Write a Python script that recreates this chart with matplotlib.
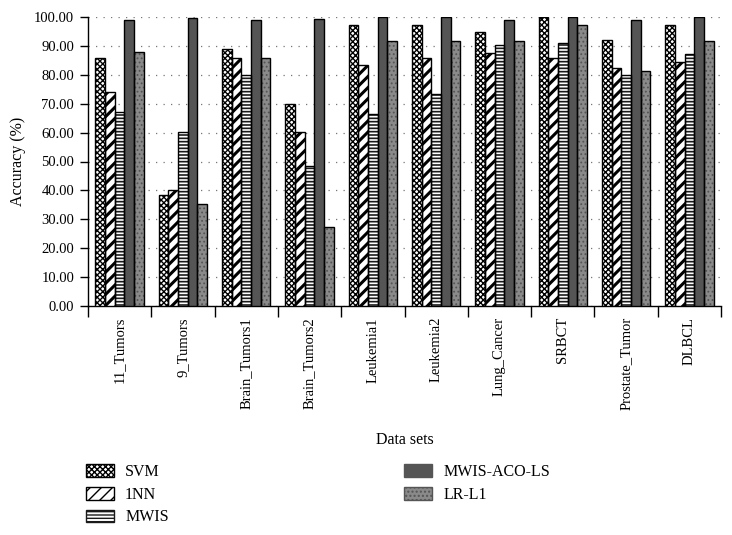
import matplotlib
matplotlib.use("Agg")
import matplotlib.pyplot as plt
import numpy as np
from matplotlib.patches import Patch

categories = ["11_Tumors", "9_Tumors", "Brain_Tumors1", "Brain_Tumors2", "Leukemia1",
              "Leukemia2", "Lung_Cancer", "SRBCT", "Prostate_Tumor", "DLBCL"]
svm = [85.7, 38.5, 89.0, 70.0, 97.1, 97.1, 94.9, 100.0, 92.0, 97.3]
nn1 = [74.2, 40.2, 85.7, 60.2, 83.4, 85.9, 87.5, 85.7, 82.4, 84.3]
mwis = [67.2, 60.2, 80.0, 48.3, 66.6, 73.4, 90.2, 91.1, 79.9, 87.2]
aco = [99.0, 99.8, 99.1, 99.3, 100.0, 100.0, 98.8, 100.0, 99.0, 100.0]
lr = [88.0, 35.4, 85.7, 27.3, 91.7, 91.7, 91.6, 97.4, 81.4, 91.8]
series_names = ["SVM", "1NN", "MWIS", "MWIS-ACO-LS", "LR-L1"]

plt.rcParams['font.family'] = ['Liberation Serif', 'DejaVu Serif']

fig = plt.figure(figsize=(7.32, 5.35), dpi=100)
ax = fig.add_axes([88/732, 1-306/535, 633/732, 289/535])

styles = [
    dict(face="white", hatch="xxxxxx", hcolor="black", hlw=1.0),
    dict(face="white", hatch="///", hcolor="black", hlw=2.2),
    dict(face="white", hatch="-----", hcolor="#1a1a1a", hlw=1.2),
    dict(face="#555555", hatch=None, hcolor="#555555", hlw=1.0),
    dict(face="#8a8a8a", hatch="....", hcolor="#555555", hlw=0.8),
]
data = [svm, nn1, mwis, aco, lr]
x = np.arange(len(categories)) + 0.5
w = 0.153
handles = []
for i, (vals, st) in enumerate(zip(data, styles)):
    pos = x + (i - 2) * w
    bars = ax.bar(pos, vals, width=w, color=st["face"], edgecolor=st["hcolor"],
                  hatch=st["hatch"], linewidth=0, zorder=3)
    for b in bars:
        if hasattr(b, "set_hatch_linewidth"):
            b.set_hatch_linewidth(st["hlw"])
    ax.bar(pos, vals, width=w, fill=False, edgecolor="black", linewidth=1.0, zorder=4)
    h = Patch(facecolor=st["face"], edgecolor=st["hcolor"], hatch=st["hatch"], linewidth=1.0)
    if hasattr(h, "set_hatch_linewidth"):
        h.set_hatch_linewidth(st["hlw"])
    handles.append(h)

ax.set_xlim(0, len(categories))
ax.set_ylim(0, 100)
ax.set_yticks(np.arange(0, 101, 10))
ax.set_yticklabels([f"{v:.2f}" for v in np.arange(0, 101, 10)], fontsize=10.5)
ax.yaxis.grid(True, linestyle=(0, (1, 5)), color="#777777", linewidth=0.9, zorder=0)
ax.set_axisbelow(True)

ax.set_xticks(np.arange(0, len(categories) + 1))
ax.set_xticklabels([])
ax.set_xticks(x, minor=True)
ax.set_xticklabels(categories, minor=True, rotation=90, fontsize=10.5, va="top")
ax.tick_params(axis="x", which="major", direction="out", length=8, width=1)
ax.tick_params(axis="x", which="minor", length=0, pad=8)
ax.tick_params(axis="y", direction="out", length=6, width=1, pad=4)

for s in ["top", "right"]:
    ax.spines[s].set_visible(False)
ax.spines["left"].set_linewidth(1.0)
ax.spines["bottom"].set_linewidth(1.0)

ax.set_ylabel("Accuracy (%)", fontsize=11.5, labelpad=6)
fig.text(405/732, 1-440/535, "Data sets", ha="center", va="center", fontsize=11.5)

leg_kw = dict(frameon=False, fontsize=11.5, handlelength=1.75, handleheight=0.85,
              labelspacing=0.42, handletextpad=0.7, borderpad=0, borderaxespad=0)
fig.legend(handles[:3], series_names[:3], loc="upper left",
           bbox_to_anchor=(86/732, 1-464/535), **leg_kw)
fig.legend(handles[3:], series_names[3:], loc="upper left",
           bbox_to_anchor=(404/732, 1-464/535), **leg_kw)

fig.savefig("out.png", dpi=100)
